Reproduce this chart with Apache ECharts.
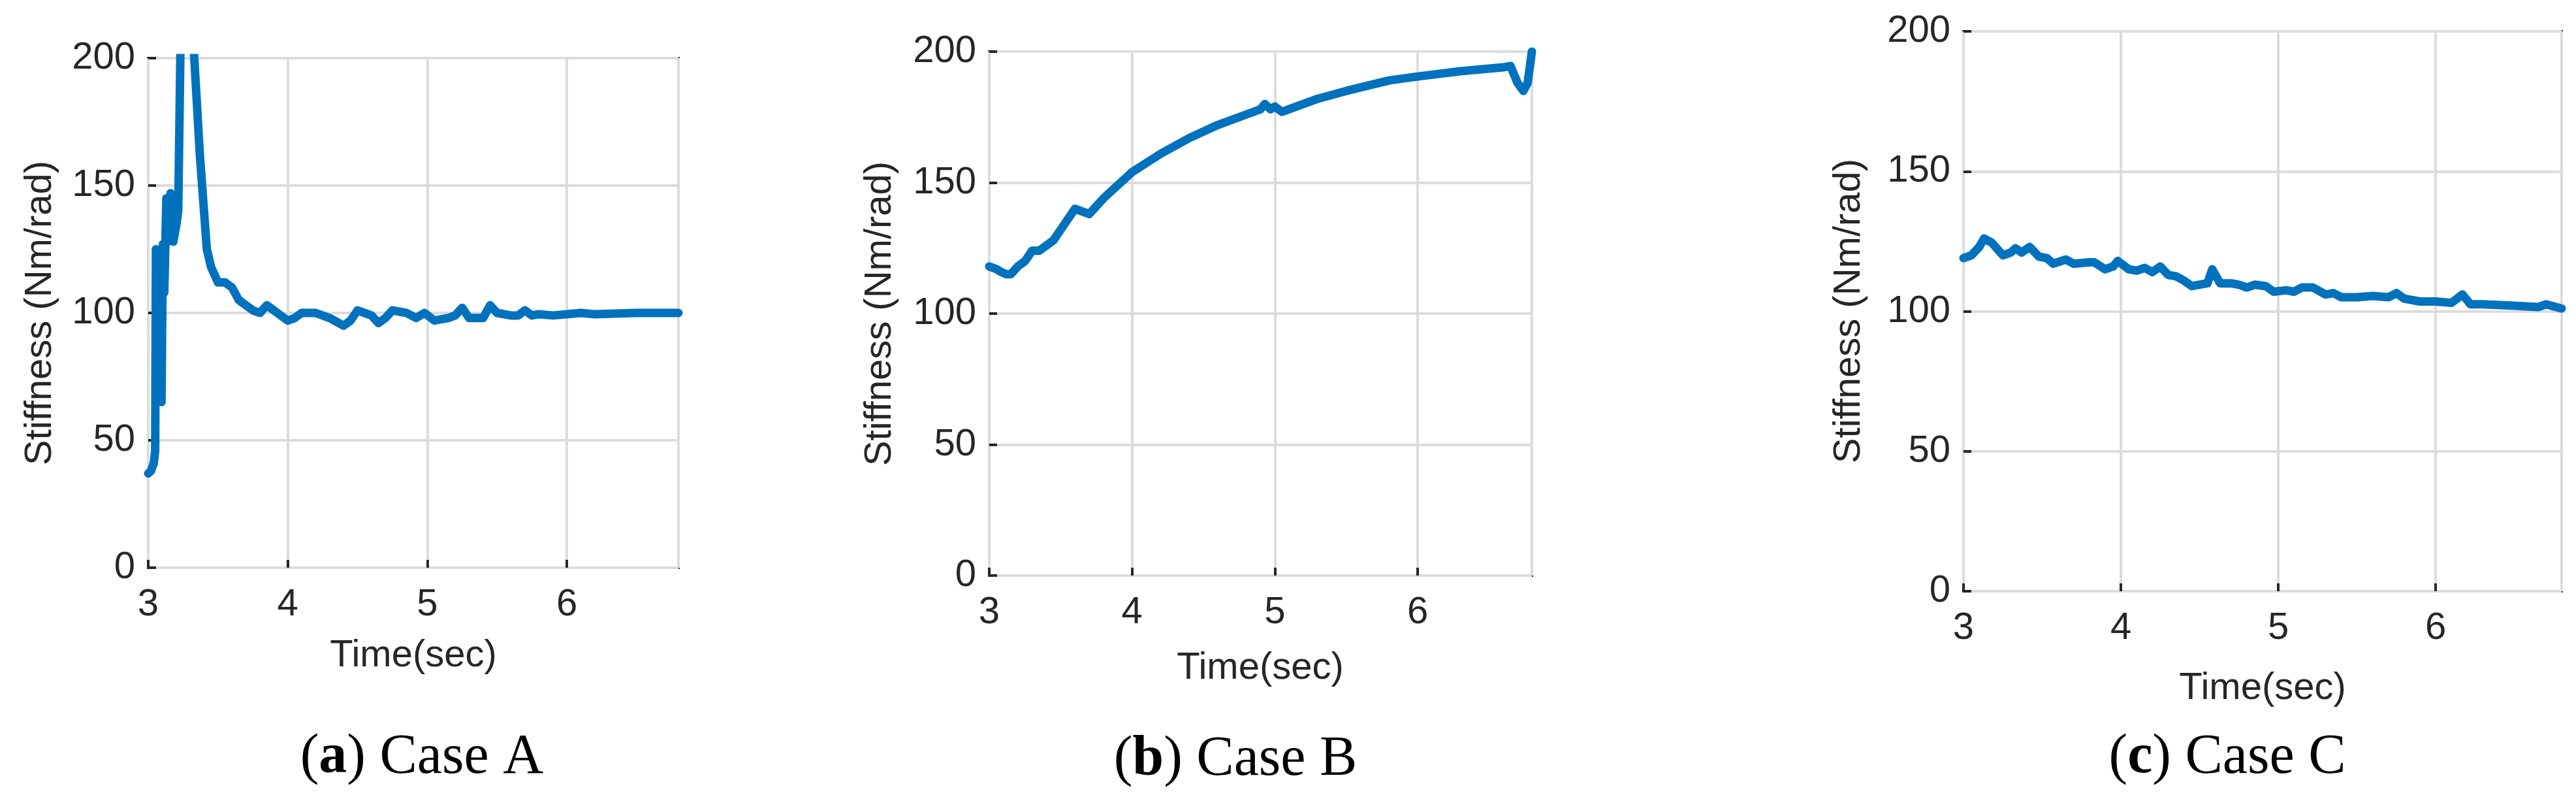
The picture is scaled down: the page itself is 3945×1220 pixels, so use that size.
<!DOCTYPE html>
<html><head><meta charset="utf-8">
<script src="https://cdn.jsdelivr.net/npm/echarts@6/dist/echarts.min.js"></script>
<style>html,body{margin:0;padding:0;background:#fff}#c{width:3945px;height:1220px}</style>
</head><body><div id="c"></div>
<script>
const xTicks = [3, 4, 5, 6];
const yTicks = [0, 50, 100, 150, 200];
const captions = [['a', 'Case A'], ['b', 'Case B'], ['c', 'Case C']];
const xTitle = 'Time(sec)';
const yTitle = 'Stiffness (Nm/rad)';
const caseA = [[3.00,37],[3.02,38],[3.04,41],[3.05,46],[3.055,125],[3.065,100],[3.075,66],[3.095,65],[3.105,127],[3.115,108],[3.13,145],[3.145,128],[3.16,147],[3.18,128],[3.2,134],[3.215,140],[3.24,240],[3.30,240],[3.33,200],[3.37,162],[3.42,125],[3.45,118],[3.5,112],[3.55,112],[3.6,110],[3.65,105],[3.7,103],[3.75,101],[3.8,100],[3.85,103],[3.9,101],[3.95,99],[4.0,97],[4.05,98],[4.1,100],[4.2,100],[4.3,98],[4.4,95],[4.45,97],[4.5,101],[4.6,99],[4.65,96],[4.7,98],[4.75,101],[4.85,100],[4.92,98],[4.98,100],[5.05,97],[5.15,98],[5.2,99],[5.25,102],[5.3,98],[5.4,98],[5.45,103],[5.5,100],[5.6,99],[5.65,99],[5.7,101],[5.75,99],[5.8,99.5],[5.9,99],[6.0,99.5],[6.1,100],[6.2,99.5],[6.5,100],[6.8,100]];
const caseB = [[3.0,118],[3.05,117],[3.08,116],[3.12,115],[3.15,115],[3.2,118],[3.25,120],[3.3,124],[3.35,124],[3.45,128],[3.5,132],[3.55,136],[3.6,140],[3.65,139],[3.7,138],[3.8,144],[3.9,149],[4.0,154],[4.2,161],[4.4,167],[4.6,172],[4.8,176],[4.9,178],[4.93,180],[4.97,178],[5.0,179],[5.05,177],[5.1,178],[5.3,182],[5.5,185],[5.8,189],[6.0,190.5],[6.3,192.5],[6.6,194],[6.65,194.5],[6.7,188],[6.74,185],[6.77,188],[6.8,200]];
const caseC = [[3.0,119],[3.05,120],[3.1,123],[3.13,126],[3.18,124.5],[3.25,120],[3.3,121],[3.33,122.5],[3.37,121],[3.42,123],[3.48,119.5],[3.53,119],[3.57,117],[3.65,118.5],[3.7,117],[3.8,117.5],[3.83,117.5],[3.9,115],[3.95,116],[3.98,118],[4.05,115],[4.1,114.5],[4.15,115.5],[4.2,114],[4.25,116],[4.3,113],[4.35,112.5],[4.4,111],[4.45,109],[4.55,110],[4.58,115],[4.63,110],[4.7,110],[4.75,109.5],[4.8,108.5],[4.85,109.5],[4.92,109],[4.97,107],[5.05,107.5],[5.1,107],[5.15,108.5],[5.22,108.5],[5.3,106],[5.35,106.5],[5.4,105],[5.5,105],[5.6,105.5],[5.7,105],[5.75,106.5],[5.8,104.5],[5.9,103.5],[6.0,103.5],[6.1,103],[6.17,106],[6.22,102.5],[6.3,102.5],[6.5,102],[6.65,101.5],[6.7,102.5],[6.8,101]];
const allData = [caseA, caseB, caseC];

const grids = [
  {left:227, top:89, width:812, height:780},
  {left:1515, top:79, width:831, height:802},
  {left:3007, top:48, width:916, height:857}
];
const xT = [[633,1004],[1930,1023],[3465,1054]];
const yT = [[62,479],[1348,480],[2832,476]];
const capPos = [[646,1160],[1892,1163],[3411,1160]];
const fs = 58;
const txt = '#262626';
const chart = echarts.init(document.getElementById('c'));
const opt = {animation:false, grid:[], xAxis:[], yAxis:[], series:[], graphic:[]};
grids.forEach((g,i)=>{
  opt.grid.push(Object.assign({show:true, borderColor:txt, borderWidth:4, backgroundColor:'#fff', z:0}, g));
  opt.xAxis.push({type:'value', gridIndex:i, min:3, max:6.8, interval:1,
    axisLine:{show:false}, axisTick:{show:true, inside:true, length:12, lineStyle:{color:txt,width:4}},
    axisLabel:{color:txt, fontSize:fs, fontFamily:'Liberation Sans', margin:28, showMaxLabel:false, formatter:v=>xTicks.includes(v)?String(v):''},
    splitLine:{show:true, lineStyle:{color:'#dcdcdc', width:4}}});
  opt.yAxis.push({type:'value', gridIndex:i, min:0, max:200, interval:50,
    axisLine:{show:false}, axisTick:{show:true, inside:true, length:12, lineStyle:{color:txt,width:4}},
    axisLabel:{color:txt, fontSize:fs, fontFamily:'Liberation Sans', margin:20, formatter:v=>yTicks.includes(v)?String(v):''},
    splitLine:{show:true, lineStyle:{color:'#dcdcdc', width:4}}});
  opt.series.push({type:'line', xAxisIndex:i, yAxisIndex:i, data:allData[i], showSymbol:false, clip:true,
    lineStyle:{color:'#0072bd', width:13, join:'round', cap:'round'}, z:5});
  opt.graphic.push({type:'text', x:xT[i][0], y:xT[i][1], style:{text:xTitle, fill:txt, font:'58px "Liberation Sans"', textAlign:'center', textVerticalAlign:'middle'}});
  opt.graphic.push({type:'text', x:yT[i][0], y:yT[i][1], rotation:Math.PI/2, style:{text:yTitle, fill:txt, font:'58px "Liberation Sans"', textAlign:'center', textVerticalAlign:'middle'}});
  opt.graphic.push({type:'text', x:capPos[i][0], y:capPos[i][1], style:{
    rich:{b:{fontFamily:'Liberation Serif', fontWeight:'bold', fontSize:86, fill:'#000'}, n:{fontFamily:'Liberation Serif', fontSize:86, fill:'#000'}},
    text:'{n|(}{b|'+captions[i][0]+'}{n|) '+captions[i][1]+'}', textAlign:'center', textVerticalAlign:'middle'}});
});
chart.setOption(opt);
</script></body></html>
